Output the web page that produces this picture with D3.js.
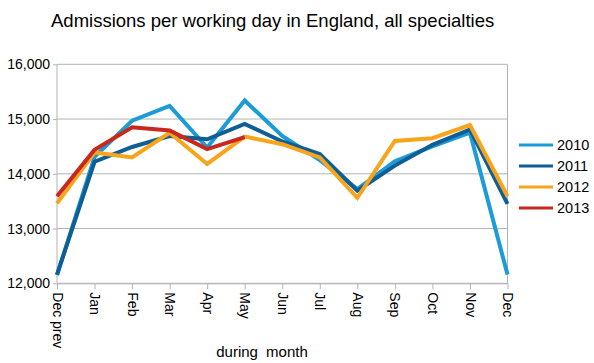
<!DOCTYPE html>
<html><head><meta charset="utf-8">
<script src="https://cdn.jsdelivr.net/npm/d3@7"></script>
<style>body{margin:0;background:#fff}svg{display:block;font-family:"Liberation Sans",Arial,sans-serif}</style>
</head><body>
<svg id="c" width="594" height="363"></svg>
<script>
const months = ["Dec prev","Jan","Feb","Mar","Apr","May","Jun","Jul","Aug","Sep","Oct","Nov","Dec"];
const years = ["2010","2011","2012","2013"];
const s2010 = [12150,14310,14970,15240,14480,15340,14690,14250,13720,14230,14500,14750,12160];
const s2011 = [12160,14220,14490,14690,14630,14910,14590,14360,13690,14150,14530,14810,13450];
const s2012 = [13460,14390,14300,14750,14180,14680,14540,14300,13560,14600,14650,14890,13590];
const s2013 = [13590,14440,14850,14790,14450,14670];
const yTicks = [12000,13000,14000,15000,16000];
const colors = ["#1b9bd7","#0f5e96","#f8a51b","#c8281d"];
const series = [s2010,s2011,s2012,s2013];

const svg = d3.select("#c");
const L=57, R=507.5, T=64.3, B=283.3;
const x = d3.scalePoint().domain(months).range([L,R]);
const y = d3.scaleLinear().domain([12000,16000]).range([B,T]);

svg.append("g").selectAll("line").data(yTicks).join("line")
  .attr("x1",L).attr("x2",R).attr("y1",d=>y(d)).attr("y2",d=>y(d))
  .attr("stroke","#b3b3b3").attr("stroke-width",1);
[L,R].forEach(v=>svg.append("line").attr("x1",v).attr("x2",v).attr("y1",T).attr("y2",B).attr("stroke","#b3b3b3"));

const yAxis = svg.append("g").attr("transform",`translate(${L},0)`)
  .call(d3.axisLeft(y).tickValues(yTicks).tickSize(4).tickPadding(3).tickFormat(d3.format(",")));
yAxis.select(".domain").remove();
yAxis.selectAll("line").attr("stroke","#b3b3b3");
yAxis.selectAll("text").attr("font-size",14).attr("fill","#000");

const xAxis = svg.append("g").attr("transform",`translate(0,${B})`)
  .call(d3.axisBottom(x).tickSize(6).tickSizeOuter(0));
xAxis.select(".domain").attr("stroke","#b3b3b3");
xAxis.selectAll("line").attr("stroke","#b3b3b3");
xAxis.selectAll("text").attr("font-size",14).attr("fill","#000")
  .attr("transform","rotate(90)").attr("text-anchor","start")
  .attr("x",9).attr("y",0).attr("dy","0.35em");

const line = d3.line().x((d,i)=>x(months[i])).y(d=>y(d));
series.forEach((s,i)=>{
  svg.append("path").datum(s).attr("d",line).attr("fill","none")
    .attr("stroke",colors[i]).attr("stroke-width",4).attr("stroke-linejoin","miter");
});

const lg = svg.append("g");
years.forEach((yr,i)=>{
  const yy = 145 + i*21;
  lg.append("line").attr("x1",519).attr("x2",553).attr("y1",yy).attr("y2",yy)
    .attr("stroke",colors[i]).attr("stroke-width",3);
  lg.append("text").attr("x",557).attr("y",yy).attr("dy","0.36em")
    .attr("font-size",14.5).text(yr);
});

svg.append("text").attr("x",51).attr("y",27).attr("font-size",18.5).text("Admissions per working day in England, all specialties");
svg.append("text").attr("x",262).attr("y",357).attr("text-anchor","middle").attr("font-size",15)
  .attr("word-spacing",4).text("during month");
</script>
</body></html>
